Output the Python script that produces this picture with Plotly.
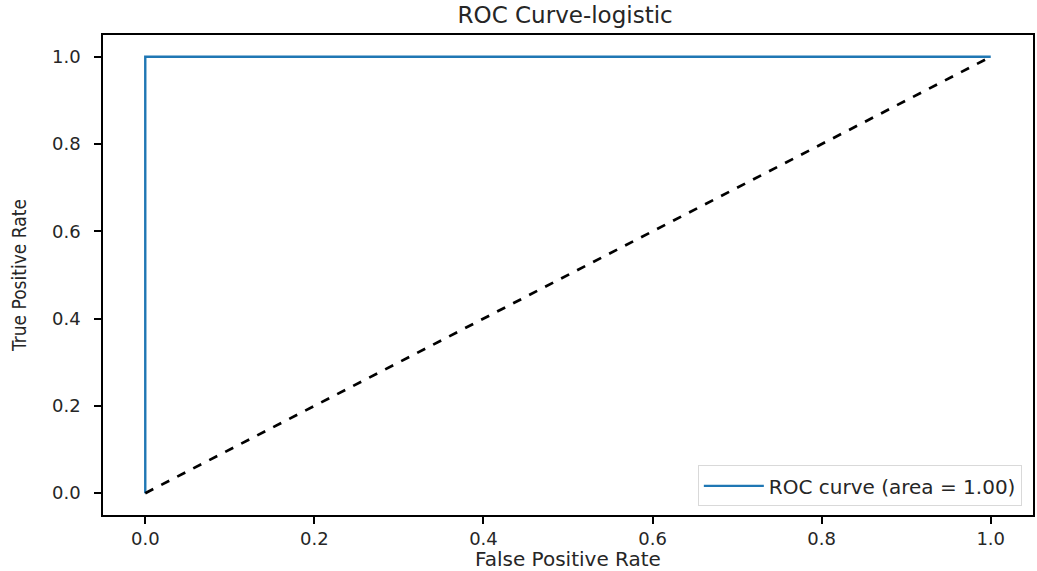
import plotly.graph_objects as go

fpr = [0.0, 0.0, 1.0]
tpr = [0.0, 1.0, 1.0]
diag_x = [0.0, 1.0]
diag_y = [0.0, 1.0]
roc_auc = 1.00
ticks = [0.0, 0.2, 0.4, 0.6, 0.8, 1.0]
tick_text = ["0.0", "0.2", "0.4", "0.6", "0.8", "1.0"]

fig = go.Figure()
fig.add_trace(go.Scatter(x=fpr, y=tpr, mode="lines",
                         line=dict(color="#1f77b4", width=2.4),
                         name=f"ROC curve (area = {roc_auc:.2f})"))
fig.add_trace(go.Scatter(x=diag_x, y=diag_y, mode="lines",
                         line=dict(color="black", width=2.7, dash="dash"),
                         showlegend=False))

axis_common = dict(showgrid=False, zeroline=False, showline=True, mirror=True,
                   linecolor="black", linewidth=1.5, ticks="outside", ticklen=7,
                   tickwidth=1.5, tickcolor="black",
                   tickfont=dict(family="DejaVu Sans", size=18, color="#262626"),
                   tickvals=ticks, ticktext=tick_text)

fig.update_layout(
    width=1037, height=571,
    margin=dict(l=103, r=2, t=35, b=56),
    paper_bgcolor="white", plot_bgcolor="white",
    title=dict(text="ROC Curve-logistic", x=0.545, xanchor="center", y=0.974, yanchor="middle",
               font=dict(family="DejaVu Sans", size=23, color="#262626")),
    xaxis=dict(range=[-0.05, 1.05], **axis_common,
               title=dict(text="False Positive Rate", standoff=2,
                          font=dict(family="DejaVu Sans", size=20, color="#262626"))),
    yaxis=dict(range=[-0.05, 1.05], **axis_common, ticklabelstandoff=10,
               title=dict(text="True Positive Rate", standoff=20,
                          font=dict(family="DejaVu Sans Condensed, Liberation Sans Narrow, DejaVu Sans",
                                    size=19, color="#262626"))),
    legend=dict(x=0.988, xanchor="right", y=0.018, yanchor="bottom",
                bgcolor="white", bordercolor="#d9d9d9", borderwidth=1, itemwidth=60,
                font=dict(family="DejaVu Sans", size=20, color="#262626")),
)

fig.write_html("out.html", config={"displayModeBar": False},
               post_script="document.body.style.margin='0';document.body.style.overflow='hidden';")
